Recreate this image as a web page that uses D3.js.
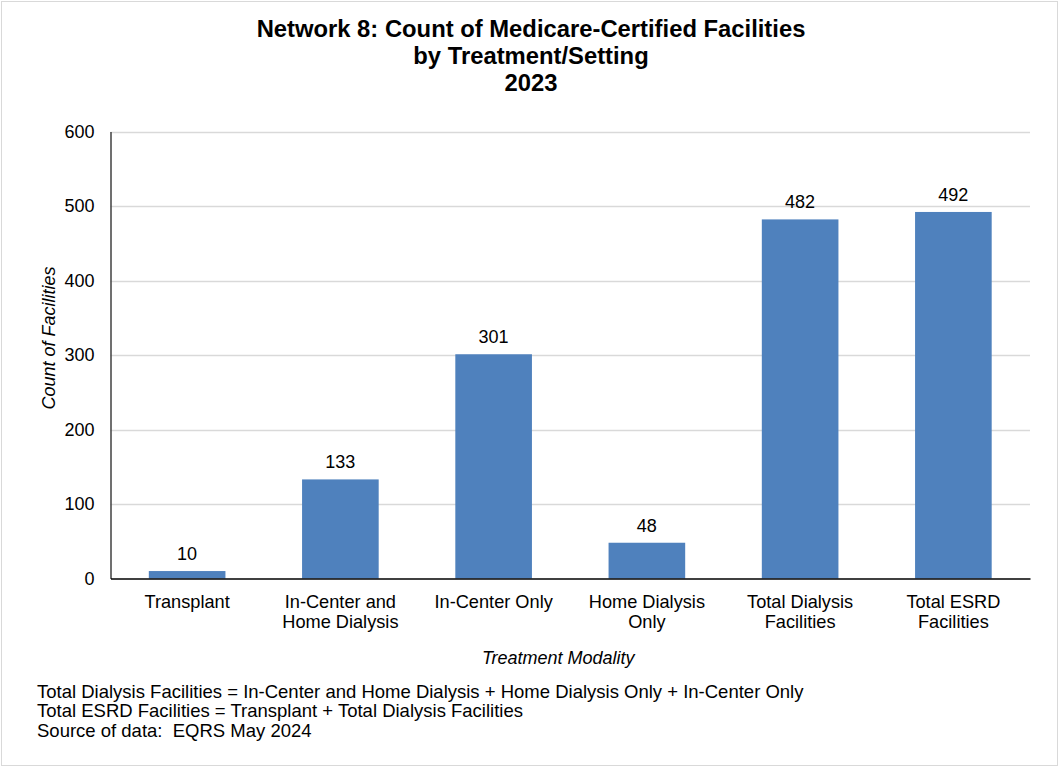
<!DOCTYPE html>
<html>
<head>
<meta charset="utf-8">
<script src="https://cdn.jsdelivr.net/npm/d3@7"></script>
<style>
  html, body { margin: 0; padding: 0; background: #fff; }
  svg { display: block; font-family: "Liberation Sans", Arial, sans-serif; }
  .note { white-space: pre; }
</style>
</head>
<body>
<svg id="chart" width="1060" height="768"></svg>
<script>
// Facility counts by treatment setting
const categories = [
  ["Transplant"],
  ["In-Center and", "Home Dialysis"],
  ["In-Center Only"],
  ["Home Dialysis", "Only"],
  ["Total Dialysis", "Facilities"],
  ["Total ESRD", "Facilities"]
];
const counts = [10, 133, 301, 48, 482, 492];
const yTicks = [0, 100, 200, 300, 400, 500, 600];
const titleLines = [
  "Network 8: Count of Medicare-Certified Facilities",
  "by Treatment/Setting",
  "2023"
];
const notes = [
  "Total Dialysis Facilities = In-Center and Home Dialysis + Home Dialysis Only + In-Center Only",
  "Total ESRD Facilities = Transplant + Total Dialysis Facilities",
  "Source of data:  EQRS May 2024"
];

const svg = d3.select("#chart");
const W = 1060, H = 768;
const plot = { left: 110.5, right: 1030, top: 131.5, bottom: 578.5 };

// outer frame
svg.append("rect")
  .attr("x", 1.5).attr("y", 1.5)
  .attr("width", W - 4).attr("height", H - 4)
  .attr("fill", "#fff").attr("stroke", "#d9d9d9").attr("stroke-width", 1);

const keys = categories.map(c => c.join(" "));
const x = d3.scaleBand().domain(keys).range([plot.left, plot.right]).paddingInner(0.5).paddingOuter(0.25);
const y = d3.scaleLinear().domain([0, 600]).range([plot.bottom, plot.top]);

// gridlines
svg.append("g")
  .selectAll("line")
  .data(yTicks.filter(t => t > 0))
  .join("line")
  .attr("x1", plot.left).attr("x2", plot.right)
  .attr("y1", d => Math.round(y(d)) + 0.5).attr("y2", d => Math.round(y(d)) + 0.5)
  .attr("stroke", "#d9d9d9").attr("stroke-width", 1.3);

// bars
svg.append("g")
  .selectAll("rect")
  .data(counts)
  .join("rect")
  .attr("x", (d, i) => x(keys[i]))
  .attr("width", x.bandwidth())
  .attr("y", d => y(d))
  .attr("height", d => y(0) - y(d))
  .attr("fill", "#4f81bd");

// value labels
svg.append("g")
  .selectAll("text")
  .data(counts)
  .join("text")
  .attr("x", (d, i) => x(keys[i]) + x.bandwidth() / 2)
  .attr("y", d => y(d) - 11)
  .attr("text-anchor", "middle")
  .attr("font-size", 18)
  .attr("fill", "#000")
  .text(d => d);

// y axis
const yAxis = svg.append("g")
  .attr("transform", `translate(${plot.left},0)`)
  .call(d3.axisLeft(y).tickValues(yTicks).tickSize(0).tickPadding(16));
yAxis.select(".domain").attr("stroke", "#404040").attr("stroke-width", 1.5);
yAxis.selectAll("text").attr("font-size", 18).attr("fill", "#000")
  .attr("font-family", "Liberation Sans, Arial, sans-serif");

// x axis
const xAxis = svg.append("g")
  .attr("transform", `translate(0,${plot.bottom})`)
  .call(d3.axisBottom(x).tickSize(0).tickFormat(""));
xAxis.select(".domain").attr("stroke", "#000").attr("stroke-width", 1.5);
xAxis.selectAll(".tick").each(function(d, i) {
  const t = d3.select(this).append("text")
    .attr("text-anchor", "middle")
    .attr("font-size", 18.2)
    .attr("fill", "#000")
    .attr("font-family", "Liberation Sans, Arial, sans-serif");
  categories[i].forEach((line, j) => {
    t.append("tspan").attr("x", 0).attr("y", 29 + j * 20).text(line);
  });
});

// axis titles
svg.append("text")
  .attr("transform", `translate(55,${(plot.top + plot.bottom) / 2 - 17}) rotate(-90)`)
  .attr("text-anchor", "middle")
  .attr("font-size", 18).attr("font-style", "italic")
  .text("Count of Facilities");

svg.append("text")
  .attr("x", (plot.left + plot.right) / 2 - 12)
  .attr("y", 664)
  .attr("text-anchor", "middle")
  .attr("font-size", 18).attr("font-style", "italic")
  .text("Treatment Modality");

// chart title
svg.append("g")
  .selectAll("text")
  .data(titleLines)
  .join("text")
  .attr("x", 531)
  .attr("y", (d, i) => 37 + i * 27)
  .attr("text-anchor", "middle")
  .attr("font-size", 23.8)
  .attr("font-weight", "bold")
  .text(d => d);

// footnotes
svg.append("g")
  .selectAll("text")
  .data(notes)
  .join("text")
  .attr("class", "note")
  .attr("x", 37)
  .attr("y", (d, i) => 698 + i * 19.3)
  .attr("font-size", 18.5)
  .text(d => d);
</script>
</body>
</html>
